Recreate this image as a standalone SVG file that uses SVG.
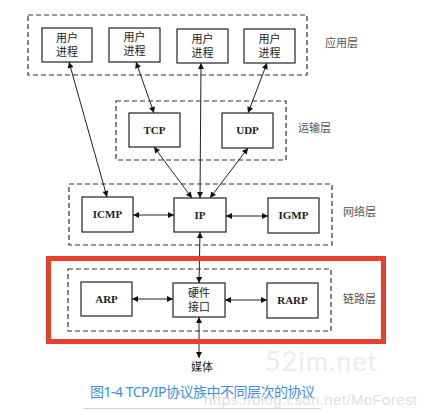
<svg xmlns="http://www.w3.org/2000/svg" width="426" height="418" viewBox="0 0 426 418">
<style>
.layer{fill:none;stroke:#333;stroke-width:1.2;stroke-dasharray:5,3}
.box{fill:#fff;stroke:#222;stroke-width:1.2}
.t{font-family:"Liberation Serif","Noto Sans CJK SC",serif;font-size:11px;fill:#222;text-anchor:middle}
.tb{font-family:"Liberation Serif",serif;font-size:11px;font-weight:bold;fill:#222;text-anchor:middle}
.lbl{font-family:"Noto Sans CJK SC",sans-serif;font-size:11px;fill:#555}
.c{stroke:#222;stroke-width:1;fill:none;marker-start:url(#ah);marker-end:url(#ah)}
</style>
<defs>
<marker id="ah" viewBox="0 0 10 10" refX="10" refY="5" markerWidth="9" markerHeight="6" markerUnits="userSpaceOnUse" orient="auto-start-reverse">
<path d="M0,0 L10,5 L0,10 z" fill="#111"/>
</marker>
</defs>
<rect width="426" height="418" fill="#fff"/>
<g id="layers">
<rect class="layer" x="28" y="15" width="279" height="60"/>
<rect class="layer" x="116" y="101" width="170" height="59"/>
<rect class="layer" x="69" y="184" width="263" height="61"/>
<rect class="layer" x="68" y="269" width="263" height="62"/>
<text class="lbl" x="325" y="47">应用层</text>
<text class="lbl" x="298" y="132">运输层</text>
<text class="lbl" x="343" y="216">网络层</text>
<text class="lbl" x="343" y="303">链路层</text>
</g>
<g id="connectors">
<line class="c" x1="69" y1="62" x2="107" y2="197"/>
<line class="c" x1="136" y1="62" x2="154" y2="113"/>
<line class="c" x1="201" y1="63" x2="200" y2="198"/>
<line class="c" x1="267" y1="63" x2="248" y2="113"/>
<line class="c" x1="154" y1="147" x2="192" y2="198"/>
<line class="c" x1="248" y1="148" x2="210" y2="198"/>
<line class="c" x1="133" y1="215" x2="174" y2="215"/>
<line class="c" x1="226" y1="216" x2="268" y2="216"/>
<line class="c" x1="200" y1="232" x2="199" y2="283"/>
<line class="c" x1="132" y1="299" x2="173" y2="299"/>
<line class="c" x1="225" y1="300" x2="267" y2="300"/>
<line class="c" x1="199" y1="317" x2="199" y2="358"/>
</g>
<g id="up1"><rect class="box" x="42" y="28" width="50" height="34"/><text class="t" x="67" y="42">用户</text><text class="t" x="67" y="56">进程</text></g>
<g id="up2"><rect class="box" x="109" y="28" width="51" height="34"/><text class="t" x="134.5" y="41">用户</text><text class="t" x="134.5" y="55">进程</text></g>
<g id="up3"><rect class="box" x="177" y="29" width="51" height="34"/><text class="t" x="202.5" y="43">用户</text><text class="t" x="202.5" y="57">进程</text></g>
<g id="up4"><rect class="box" x="244" y="29" width="51" height="34"/><text class="t" x="269.5" y="43">用户</text><text class="t" x="269.5" y="57">进程</text></g>
<g id="tcp"><rect class="box" x="129" y="113" width="51" height="34"/><text class="tb" x="154.5" y="134">TCP</text></g>
<g id="udp"><rect class="box" x="222" y="113" width="51" height="35"/><text class="tb" x="247.5" y="134">UDP</text></g>
<g id="icmp"><rect class="box" x="82" y="197" width="51" height="35"/><text class="tb" x="107.5" y="218">ICMP</text></g>
<g id="ip"><rect class="box" x="174" y="198" width="52" height="34"/><text class="tb" x="200" y="219">IP</text></g>
<g id="igmp"><rect class="box" x="268" y="198" width="51" height="35"/><text class="tb" x="293.5" y="219">IGMP</text></g>
<g id="arp"><rect class="box" x="81" y="282" width="51" height="34"/><text class="tb" x="106.5" y="303">ARP</text></g>
<g id="hw"><rect class="box" x="173" y="283" width="52" height="34"/><text class="t" x="199" y="297">硬件</text><text class="t" x="199" y="311">接口</text></g>
<g id="rarp"><rect class="box" x="267" y="283" width="51" height="35"/><text class="tb" x="292.5" y="304">RARP</text></g>
<g id="media"><text class="t" x="202" y="371">媒体</text></g>
<rect x="48.5" y="258.5" width="335" height="83" fill="none" stroke="#e8412b" stroke-width="5"/>
<text x="265" y="371" font-family="Lato,'Open Sans',sans-serif" font-size="27" fill="#ececec" textLength="112">52im.net</text>
<text x="90" y="397" font-family="'Noto Sans','Noto Sans CJK SC',sans-serif" font-size="14" fill="#3b8ee8" textLength="225">图1-4 TCP/IP协议族中不同层次的协议</text>
<text x="204" y="405" font-family="'Liberation Sans',sans-serif" font-size="15" fill="#d8d8d8" fill-opacity="0.8" textLength="213">https://blog.csdn.net/MoForest</text>
<line x1="84" y1="408.5" x2="321" y2="408.5" stroke="#d0d0d0" stroke-width="1"/>
</svg>
